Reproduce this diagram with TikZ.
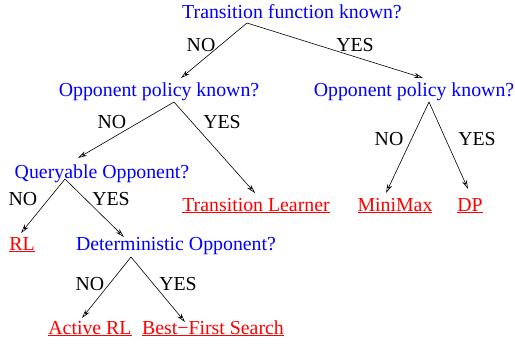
\documentclass[tikz,border=0pt]{standalone}
\usepackage{fontspec}
\setmainfont{Liberation Serif}
\usetikzlibrary{arrows.meta}
\begin{document}
\begin{tikzpicture}[x=1bp,y=-1bp,
  txt/.style={inner sep=0pt,anchor=base,font=\fontsize{19.9}{22}\selectfont},
  question/.style={txt,text={rgb,255:red,0;green,0;blue,255}},
  leaf/.style={txt,text={rgb,255:red,255;green,0;blue,0}},
  answer/.style={txt,text=black},
  branch/.style={draw=black,line width=0.6bp,-{Stealth[open,length=9bp,width=5bp,inset=3bp]}}]
\useasboundingbox (0,0) rectangle (515,343);
% questions
\node[question] (root) at (292,18) {Transition function known?};
\node[question] (opl) at (159,96) {Opponent policy known?};
\node[question] (opr) at (414,96) {Opponent policy known?};
\node[question] (qry) at (102,178) {Queryable Opponent?};
\node[question] (det) at (176,250) {Deterministic Opponent?};
% leaves
\node[leaf] (tl) at (256,211) {\underline{Transition Learner}};
\node[leaf] (mm) at (395,211) {\underline{MiniMax}};
\node[leaf] (dp) at (470,211) {\underline{DP}};
\node[leaf] (rl) at (22,250) {\underline{RL}};
\node[leaf] (arl) at (90,334) {\underline{Active RL}};
\node[leaf] (bfs) at (213,334) {\underline{Best−First Search}};
% branch points
\coordinate (r0) at (247,23);
\coordinate (e1) at (181,78);
\coordinate (e2) at (423,78);
\coordinate (a0) at (174,102);
\coordinate (a1) at (78,158);
\coordinate (a2) at (255,193);
\coordinate (b0) at (429,102);
\coordinate (b1) at (386,193);
\coordinate (b2) at (468,189);
\coordinate (c0) at (65,179);
\coordinate (c1) at (21,233);
\coordinate (c2) at (124,237);
\coordinate (d0) at (131,257);
\coordinate (d1) at (82,318);
\coordinate (d2) at (185,322);
% connectors
\draw[branch] (r0) -- (e1);
\draw[branch] (r0) -- (e2);
\draw[branch] (a0) -- (a1);
\draw[branch] (a0) -- (a2);
\draw[branch] (b0) -- (b1);
\draw[branch] (b0) -- (b2);
\draw[branch] (c0) -- (c1);
\draw[branch] (c0) -- (c2);
\draw[branch] (d0) -- (d1);
\draw[branch] (d0) -- (d2);
% answers
\node[answer] (n1) at (201,51) {NO};
\node[answer] (y1) at (355,51) {YES};
\node[answer] (n2) at (112,128) {NO};
\node[answer] (y2) at (222,128) {YES};
\node[answer] (n3) at (389,145) {NO};
\node[answer] (y3) at (477,145) {YES};
\node[answer] (n4) at (23,205) {NO};
\node[answer] (y4) at (111,205) {YES};
\node[answer] (n5) at (90,290) {NO};
\node[answer] (y5) at (178,290) {YES};
\end{tikzpicture}
\end{document}
